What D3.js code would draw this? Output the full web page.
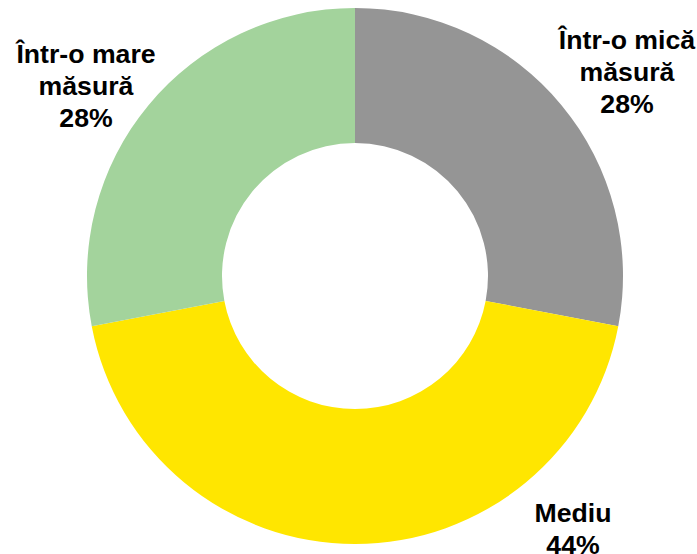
<!DOCTYPE html>
<html>
<head>
<meta charset="utf-8">
<script src="https://cdn.jsdelivr.net/npm/d3@7"></script>
<style>
  html, body { margin: 0; padding: 0; background: #fff; }
  svg { display: block; }
  text { font-family: Arial, "Liberation Sans", sans-serif; font-weight: bold; fill: #000; }
</style>
</head>
<body>
<svg id="chart" width="697" height="554"></svg>
<script>
// Answer shares, clockwise from 12 o'clock
const categories = ["Într-o mică măsură", "Mediu", "Într-o mare măsură"];
const values = [28, 44, 28];
const colors = ["#959595", "#ffe600", "#a3d39c"];

// Label lines per slice and their anchor positions
const labelLines = [["Într-o mică", "măsură", "28%"], ["Mediu", "44%"], ["Într-o mare", "măsură", "28%"]];
const labelPos = [[627, 49], [573, 522], [86, 63]];

const svg = d3.select("#chart");
const cx = 355, cy = 276, outerR = 268, innerR = 133;

const data = categories.map((c, i) => ({ name: c, value: values[i], color: colors[i] }));

const pie = d3.pie().value(d => d.value).sort(null);
const arc = d3.arc().innerRadius(innerR).outerRadius(outerR);

const g = svg.append("g").attr("transform", `translate(${cx},${cy})`);
g.selectAll("path")
  .data(pie(data))
  .join("path")
  .attr("d", arc)
  .attr("fill", d => d.data.color);

const fontSize = 26.67, lineH = 32;
labelLines.forEach((lines, i) => {
  const t = svg.append("text")
    .attr("text-anchor", "middle")
    .style("font-size", fontSize + "px");
  lines.forEach((ln, j) => {
    t.append("tspan")
      .attr("x", labelPos[i][0])
      .attr("y", labelPos[i][1] + j * lineH)
      .text(ln);
  });
});
</script>
</body>
</html>
